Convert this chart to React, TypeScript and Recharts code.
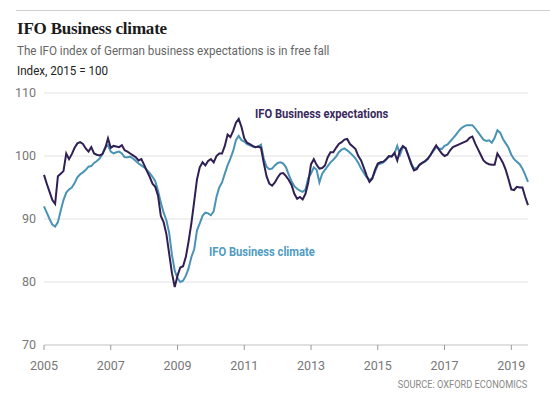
import { LineChart, Line, XAxis, YAxis, CartesianGrid } from "recharts"

const START_YEAR = 2005

// monthly, Jan 2005 - Jul 2019
const EXPECTATIONS = [
  97.0, 95.6, 94.3, 93.0, 92.4, 96.8, 97.2, 97.6, 100.4, 99.5, 100.3, 101.3,
  102.0, 102.2, 101.9, 101.2, 100.7, 101.4, 100.4, 100.2, 100.1, 100.3, 101.2, 102.8,
  101.3, 101.6, 101.5, 101.4, 101.7, 100.9, 100.7, 100.4, 100.1, 99.8, 99.3, 99.5,
  98.6, 97.6, 96.7, 95.6, 95.1, 93.7, 90.5, 89.5, 87.6, 84.5, 81.4, 79.2,
  81.0, 82.3, 82.5, 84.0, 86.5, 89.4, 92.8, 96.3, 98.2, 99.0, 98.5, 99.2,
  99.5, 99.0, 100.0, 100.4, 100.4, 101.6, 103.4, 103.0, 104.0, 105.3, 105.9, 104.6,
  102.8, 102.1, 101.9, 101.6, 101.4, 101.5, 101.3, 98.9, 96.8, 95.6, 95.3, 95.8,
  96.6, 97.2, 97.3, 96.8, 96.2, 95.4, 94.0, 93.2, 93.5, 93.1, 94.0, 95.8,
  98.7, 99.5, 98.6, 98.0, 98.1, 98.5, 99.8, 100.6, 100.6, 101.3, 101.9, 102.2,
  102.6, 102.7, 101.9, 101.5, 101.1, 100.0, 99.3, 98.1, 96.9, 95.9, 96.4, 97.8,
  98.8, 99.0, 99.1, 99.5, 100.0, 99.9, 100.5, 99.3, 100.9, 101.6, 101.2, 100.0,
  98.7, 97.7, 97.9, 98.6, 98.9, 99.2, 99.6, 100.2, 101.0, 101.7, 101.0, 100.4,
  100.0, 100.2, 100.9, 101.4, 101.6, 101.8, 102.0, 102.2, 102.4, 102.9, 103.1, 102.0,
  101.1, 100.2, 99.3, 98.9, 98.7, 98.6, 98.6, 100.4, 99.7, 98.9, 97.8, 96.3,
  94.7, 94.6, 95.1, 95.0, 95.0, 93.5, 92.2,
]

const CLIMATE = [
  92.0, 91.0, 90.0, 89.1, 88.8, 89.5, 91.3, 93.0, 94.2, 94.7, 95.0, 95.7,
  96.6, 97.1, 97.4, 97.8, 98.3, 98.4, 98.9, 99.2, 99.6, 100.3, 101.4, 101.7,
  100.7, 100.4, 100.6, 100.7, 100.4, 99.8, 99.8, 99.9, 99.6, 99.2, 98.8, 98.5,
  98.2, 97.8, 97.3, 96.7, 96.0, 94.5, 92.6, 91.0, 89.8, 87.8, 84.3, 81.8,
  80.6, 80.0, 80.2, 81.0, 82.2, 84.0, 85.2, 88.2, 89.3, 90.5, 91.0, 90.9,
  90.6, 91.2, 93.5, 95.0, 95.8, 97.2, 98.5, 99.6, 100.8, 102.5, 103.2, 102.5,
  102.3, 101.9, 101.7, 101.5, 101.4, 101.5, 101.8, 99.6, 98.3, 97.9, 98.0, 98.5,
  98.9, 99.0, 98.8, 98.2, 97.0, 96.0, 95.2, 94.8, 94.5, 94.3, 94.7, 96.5,
  97.2, 98.2, 97.8, 95.8, 97.2, 97.8, 98.4, 99.0, 99.4, 99.9, 100.6, 101.0,
  101.2, 100.9, 100.5, 100.1, 99.6, 98.9, 98.0, 97.3, 96.6, 96.2, 96.5, 97.5,
  98.6, 98.8, 99.0, 99.4, 99.9, 100.0, 100.4, 101.6, 100.2, 101.4, 101.3, 100.1,
  98.9, 98.0, 98.1, 98.6, 98.9, 99.1, 99.5, 100.2, 100.8, 101.4, 101.2, 101.1,
  101.6, 101.8, 102.3, 102.8, 103.3, 103.9, 104.4, 104.7, 104.9, 104.9, 104.9, 104.4,
  103.8, 103.2, 102.6, 102.4, 102.5, 102.1, 102.9, 104.1, 103.7, 102.7, 102.0, 101.3,
  100.2, 99.5, 99.1, 98.7, 98.0, 97.0, 95.9,
]

const X_TICKS = [2005, 2007, 2009, 2011, 2013, 2015, 2017, 2019]
const Y_TICKS = [70, 80, 90, 100, 110]

const DARK = "#2f1f52"
const TEAL = "#4a93b5"
const SANS = "Roboto, 'Liberation Sans', sans-serif"

const data = EXPECTATIONS.map((v, i) => ({
  t: START_YEAR + i / 12,
  expectations: v,
  climate: CLIMATE[i],
}))

// the original uses a condensed face; squeeze the text a bit
const narrow = (sx: number, origin = "left") => ({
  transform: `scaleX(${sx})`,
  transformOrigin: `${origin} center`,
  whiteSpace: "nowrap" as const,
})

export default function App() {
  return (
    <div style={{ position: "absolute", left: 0, top: 0, width: 550, height: 398, background: "#fff", fontFamily: SANS }}>
      <div style={{ position: "absolute", left: 16, top: 10, width: 534, borderTop: "1px solid #d0d0d0" }} />
      <div style={{ position: "absolute", left: 17, top: 20, fontFamily: "'Liberation Serif', serif", fontWeight: 700, fontSize: 17, lineHeight: "17px", color: "#1a1a1a", letterSpacing: -0.2 }}>
        IFO Business climate
      </div>
      <div style={{ position: "absolute", left: 17, top: 44, fontSize: 12.5, lineHeight: "14px", color: "#666", ...narrow(0.93) }}>
        The IFO index of German business expectations is in free fall
      </div>
      <div style={{ position: "absolute", left: 17, top: 64, fontSize: 12.5, lineHeight: "14px", color: "#222", ...narrow(0.93) }}>
        Index, 2015 = 100
      </div>

      <LineChart width={550} height={398} data={data} margin={{ top: 93, right: 22, bottom: 23, left: 0 }}>
        <CartesianGrid vertical={false} stroke="#e2e2e2" />
        <XAxis
          dataKey="t"
          type="number"
          domain={[2005, 2019.5]}
          ticks={X_TICKS}
          height={30}
          tickSize={5}
          tickMargin={11}
          axisLine={{ stroke: "#cfcfcf" }}
          tickLine={{ stroke: "#999" }}
          tick={{ fill: "#777", fontSize: 12.5, fontFamily: SANS }}
        />
        <YAxis
          domain={[70, 110]}
          ticks={Y_TICKS}
          width={44}
          axisLine={false}
          tickLine={false}
          tickSize={0}
          tickMargin={8}
          tick={{ fill: "#777", fontSize: 12.5, fontFamily: SANS }}
        />
        <Line dataKey="climate" stroke={TEAL} strokeWidth={2} dot={false} isAnimationActive={false} />
        <Line dataKey="expectations" stroke={DARK} strokeWidth={2} dot={false} isAnimationActive={false} />
      </LineChart>

      <div style={{ position: "absolute", left: 255, top: 107, fontSize: 13, fontWeight: 700, lineHeight: "14px", color: "#3a2a5e", ...narrow(0.86) }}>
        IFO Business expectations
      </div>
      <div style={{ position: "absolute", left: 209, top: 245, fontSize: 13, fontWeight: 700, lineHeight: "14px", color: "#4f9cc2", ...narrow(0.86) }}>
        IFO Business climate
      </div>
      <div style={{ position: "absolute", right: 23, top: 379, fontSize: 10.5, lineHeight: "12px", color: "#888", ...narrow(0.88, "right") }}>
        SOURCE: OXFORD ECONOMICS
      </div>
    </div>
  )
}
